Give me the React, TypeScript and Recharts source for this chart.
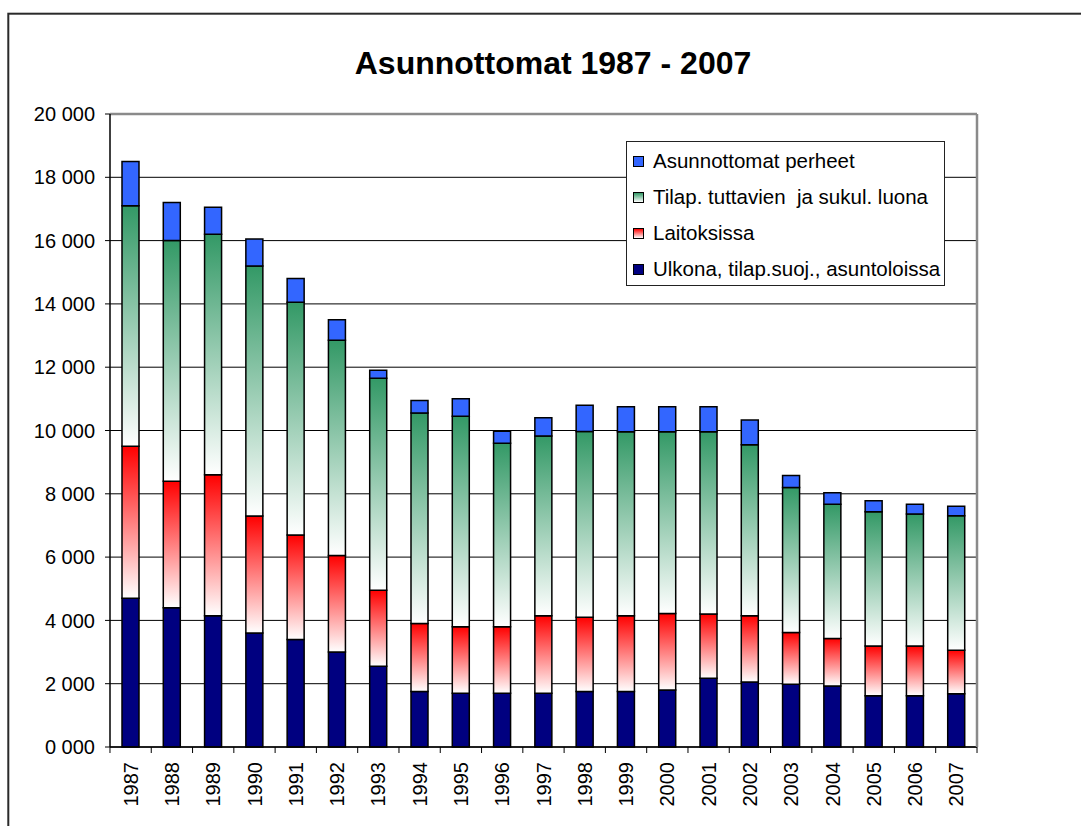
import React from "react";
import {
  BarChart,
  Bar,
  XAxis,
  YAxis,
  CartesianGrid,
  ReferenceLine,
  Legend,
} from "recharts";

const years = [
  "1987", "1988", "1989", "1990", "1991", "1992", "1993", "1994", "1995", "1996", "1997",
  "1998", "1999", "2000", "2001", "2002", "2003", "2004", "2005", "2006", "2007",
];

// Ulkona, tilap.suoj., asuntoloissa
const ulkona = [
  4700, 4400, 4150, 3600, 3400, 3000, 2550, 1750, 1700, 1700, 1700,
  1750, 1750, 1800, 2170, 2050, 1980, 1930, 1620, 1620, 1680,
];
// Laitoksissa
const laitoksissa = [
  4800, 4000, 4450, 3700, 3300, 3050, 2400, 2150, 2100, 2100, 2450,
  2350, 2400, 2420, 2030, 2100, 1640, 1500, 1570, 1570, 1380,
];
// Tilap. tuttavien ja sukul. luona
const tuttavien = [
  7600, 7600, 7600, 7900, 7350, 6800, 6700, 6650, 6650, 5800, 5680,
  5870, 5810, 5740, 5760, 5400, 4580, 4240, 4240, 4170, 4250,
];
// Asunnottomat perheet
const perheet = [
  1400, 1200, 850, 850, 750, 650, 250, 400, 550, 380, 570,
  830, 790, 790, 790, 780, 380, 360, 350, 310, 300,
];

const yTicks = [0, 2000, 4000, 6000, 8000, 10000, 12000, 14000, 16000, 18000, 20000];

const data = years.map((year, i) => ({
  year,
  ulkona: ulkona[i],
  laitoksissa: laitoksissa[i],
  tuttavien: tuttavien[i],
  perheet: perheet[i],
}));

// bottom-to-top stacking order
const series = [
  { key: "ulkona", name: "Ulkona, tilap.suoj., asuntoloissa", fill: "#000080", swatch: "#000080" },
  { key: "laitoksissa", name: "Laitoksissa", fill: "url(#gradRed)", swatch: "linear-gradient(to bottom, #ff0000, #ffffff)" },
  { key: "tuttavien", name: "Tilap. tuttavien  ja sukul. luona", fill: "url(#gradGreen)", swatch: "linear-gradient(to bottom, #339966, #ffffff)" },
  { key: "perheet", name: "Asunnottomat perheet", fill: "#3366ff", swatch: "#3366ff" },
];

const W = 1081;
const H = 826;
const Y_W = 100;
const MARGIN = { top: 114, right: 103, left: 10, bottom: 9 };
const X_H = 70;
const PLOT_W = W - MARGIN.right - MARGIN.left - Y_W;
const FONT = "'Liberation Sans', Arial, sans-serif";

const fmt = (v: number) => {
  const th = Math.floor(v / 1000);
  const rest = String(v % 1000).padStart(3, "0");
  return `${th} ${rest}`;
};

const XTick = (props: any) => {
  const { x, y, payload, index } = props;
  const step = PLOT_W / years.length;
  return (
    <g>
      <line x1={x - step / 2} x2={x - step / 2} y1={y} y2={y + 6} stroke="#000" strokeWidth={1} />
      {index === years.length - 1 && (
        <line x1={x + step / 2} x2={x + step / 2} y1={y} y2={y + 6} stroke="#000" strokeWidth={1} />
      )}
      <text
        transform={`translate(${x},${y + 15}) rotate(-90)`}
        textAnchor="end"
        dominantBaseline="central"
        fill="#000"
        fontSize={20}
        fontFamily={FONT}
      >
        {payload.value}
      </text>
    </g>
  );
};

const LegendBox = () => (
  <div
    style={{
      boxSizing: "border-box",
      width: 319,
      height: 145,
      border: "1px solid #222",
      background: "#fff",
      paddingTop: 1,
      fontFamily: FONT,
      fontSize: 20.5,
      color: "#000",
    }}
  >
    {[...series].reverse().map((s) => (
      <div key={s.key} style={{ height: 36, display: "flex", alignItems: "center", whiteSpace: "pre" }}>
        <span
          style={{
            display: "inline-block",
            boxSizing: "border-box",
            width: 11,
            height: 11,
            marginLeft: 6,
            marginRight: 9,
            border: "1px solid #000",
            background: s.swatch,
          }}
        />
        <span>{s.name}</span>
      </div>
    ))}
  </div>
);

export default function App() {
  return (
    <div style={{ position: "absolute", left: 0, top: 0, width: W, height: H, background: "#fff", overflow: "hidden" }}>
      <svg
        width={W}
        height={H}
        style={{ position: "absolute", left: 0, top: 0, pointerEvents: "none" }}
      >
        <rect x={8.3} y={13.7} width={W + 50} height={H + 50} fill="none" stroke="#2a2a2a" strokeWidth={2} />
        <text
          x={553}
          y={74}
          textAnchor="middle"
          fontFamily={FONT}
          fontWeight="bold"
          fontSize={32}
          fill="#000"
        >
          Asunnottomat 1987 - 2007
        </text>
      </svg>
      <div style={{ position: "absolute", left: 0, top: 0 }}>
        <BarChart
          width={W}
          height={H}
          data={data}
          margin={MARGIN}
          barSize={17}
          style={{ fontFamily: FONT }}
        >
          <defs>
            <linearGradient id="gradGreen" x1="0" y1="0" x2="0" y2="1">
              <stop offset="0%" stopColor="#339966" />
              <stop offset="100%" stopColor="#ffffff" />
            </linearGradient>
            <linearGradient id="gradRed" x1="0" y1="0" x2="0" y2="1">
              <stop offset="0%" stopColor="#ff0000" />
              <stop offset="100%" stopColor="#ffffff" />
            </linearGradient>
          </defs>
          <CartesianGrid vertical={false} stroke="#000" strokeWidth={1} />
          <XAxis
            dataKey="year"
            interval={0}
            height={X_H}
            tickLine={false}
            tickSize={0}
            tickMargin={0}
            axisLine={{ stroke: "#000", strokeWidth: 1.5 }}
            tick={<XTick />}
          />
          <YAxis
            width={Y_W}
            domain={[0, 20000]}
            ticks={yTicks}
            interval={0}
            tickFormatter={fmt}
            tickSize={5}
            tickMargin={10}
            axisLine={{ stroke: "#000", strokeWidth: 1.5 }}
            tickLine={{ stroke: "#000" }}
            tick={{ fill: "#000", fontSize: 20, fontFamily: FONT }}
          />
          <YAxis
            yAxisId="right"
            orientation="right"
            width={1}
            domain={[0, 20000]}
            tick={false}
            tickLine={false}
            axisLine={{ stroke: "#8a8a8a", strokeWidth: 2.5 }}
          />
          <ReferenceLine y={20000} stroke="#8a8a8a" strokeWidth={2.5} />
          {series.map((s) => (
            <Bar
              key={s.key}
              dataKey={s.key}
              name={s.name}
              stackId="a"
              fill={s.fill}
              stroke="#000"
              strokeWidth={1.5}
              isAnimationActive={false}
            />
          ))}
          <Legend
            layout="vertical"
            align="center"
            verticalAlign="middle"
            content={<LegendBox />}
            wrapperStyle={{ left: 626, top: 141, width: 319, height: 145 }}
          />
        </BarChart>
      </div>
    </div>
  );
}
